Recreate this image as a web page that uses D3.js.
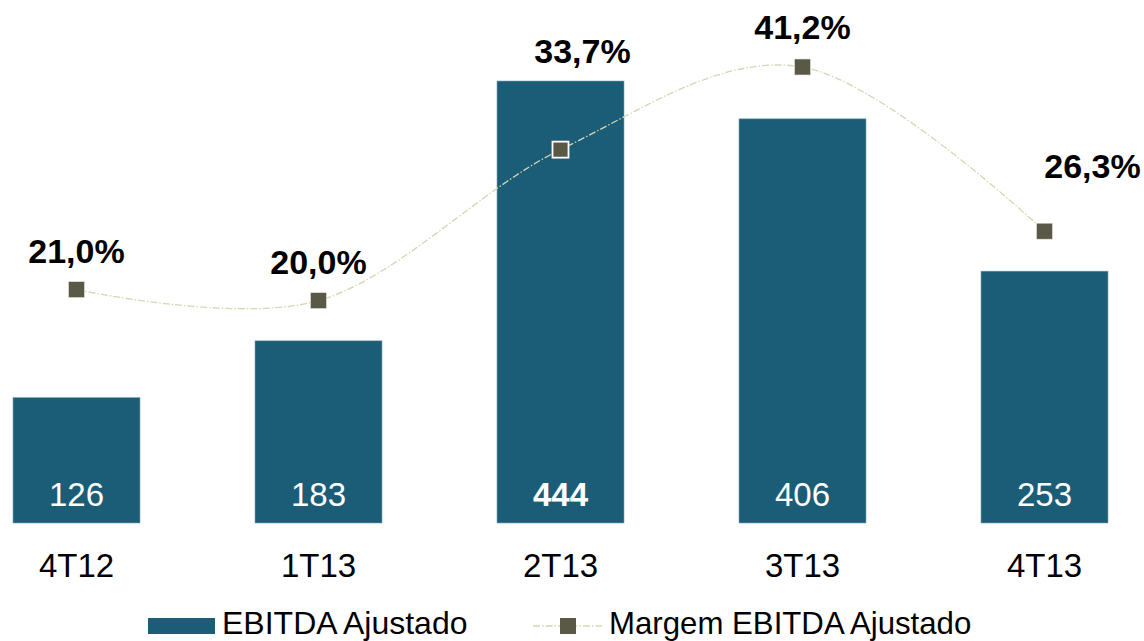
<!DOCTYPE html>
<html><head><meta charset="utf-8">
<script src="https://cdn.jsdelivr.net/npm/d3@7"></script>
<style>html,body{margin:0;padding:0;background:#fff;}svg{display:block;font-family:"Liberation Sans",Arial,sans-serif;}</style>
</head><body>
<svg id="c" width="1144" height="641"></svg>
<script>
const categories = ["4T12","1T13","2T13","3T13","4T13"];
const ebitda = [126,183,444,406,253];
const ebitdaLabels = ["126","183","444","406","253"];
const margem = [21.0,20.0,33.7,41.2,26.3];
const margemLabels = ["21,0%","20,0%","33,7%","41,2%","26,3%"];
const boldBar = [false,false,true,false,false];
// label layout offsets (px) relative to marker
const labelDx = [0,0,22,0,48];
const labelDy = [-27,-27,-87,-28,-53];

const barColor = "#1b5d77", markerColor = "#5a5846", lineColor = "#d6d6b2";
const svg = d3.select("#c");

const xc = d3.scalePoint().domain(categories).range([76.5, 76.5 + 242*4]);
const barW = 127;
const y = d3.scaleLinear().domain([0, 444]).range([523, 81]);
const y2 = d3.scaleLinear().domain([0, 41.2]).range([521, 67]);

const g = svg.append("g");
g.selectAll("rect.bar").data(ebitda).join("rect")
  .attr("x",(d,i)=>xc(categories[i]) - barW/2)
  .attr("width",barW)
  .attr("y",d=>y(d))
  .attr("height",d=>y(0)-y(d))
  .attr("fill",barColor)
  .attr("stroke","#7fa3b5").attr("stroke-width",0.6);

g.selectAll("text.val").data(ebitda).join("text")
  .attr("x",(d,i)=>xc(categories[i]))
  .attr("y",506)
  .attr("text-anchor","middle")
  .attr("fill","#fff")
  .attr("font-size",33)
  .attr("font-weight",(d,i)=>boldBar[i]?"bold":"normal")
  .text((d,i)=>ebitdaLabels[i]);

g.selectAll("text.cat").data(categories).join("text")
  .attr("x",d=>xc(d))
  .attr("y",577)
  .attr("text-anchor","middle")
  .attr("fill","#000")
  .attr("font-size",33)
  .text(d=>d);

const line = d3.line().x((d,i)=>xc(categories[i])).y(d=>y2(d)).curve(d3.curveCardinal.tension(0));
g.append("path").attr("d",line(margem)).attr("fill","none")
  .attr("stroke",lineColor).attr("stroke-width",1.3).attr("stroke-dasharray","7,2,1.5,2");

const ms = 16;
g.selectAll("rect.mk").data(margem).join("rect")
  .attr("x",(d,i)=>xc(categories[i]) - ms/2)
  .attr("y",d=>y2(d) - ms/2)
  .attr("width",ms).attr("height",ms)
  .attr("fill",markerColor)
  .attr("stroke",(d,i)=> (y2(d) > y(ebitda[i])) ? "#fff" : "#e8e8e0")
  .attr("stroke-width",(d,i)=> (y2(d) > y(ebitda[i])) ? 1.8 : 0.6);

g.selectAll("text.pct").data(margem).join("text")
  .attr("x",(d,i)=>xc(categories[i]) + labelDx[i])
  .attr("y",(d,i)=>y2(d) + labelDy[i])
  .attr("text-anchor","middle")
  .attr("fill","#000")
  .attr("font-size",34)
  .attr("font-weight","bold")
  .text((d,i)=>margemLabels[i]);

// legend
const lg = svg.append("g");
lg.append("rect").attr("x",148).attr("y",618).attr("width",67).attr("height",16).attr("fill",barColor);
lg.append("text").attr("x",222).attr("y",634).attr("font-size",32).attr("fill","#000").text("EBITDA Ajustado");
lg.append("line").attr("x1",533).attr("x2",602).attr("y1",626).attr("y2",626)
  .attr("stroke",lineColor).attr("stroke-width",1.3).attr("stroke-dasharray","7,2,1.5,2");
lg.append("rect").attr("x",560).attr("y",618).attr("width",16).attr("height",16).attr("fill",markerColor);
lg.append("text").attr("x",609).attr("y",634).attr("font-size",31.2).attr("fill","#000").text("Margem EBITDA Ajustado");
</script>
</body></html>
